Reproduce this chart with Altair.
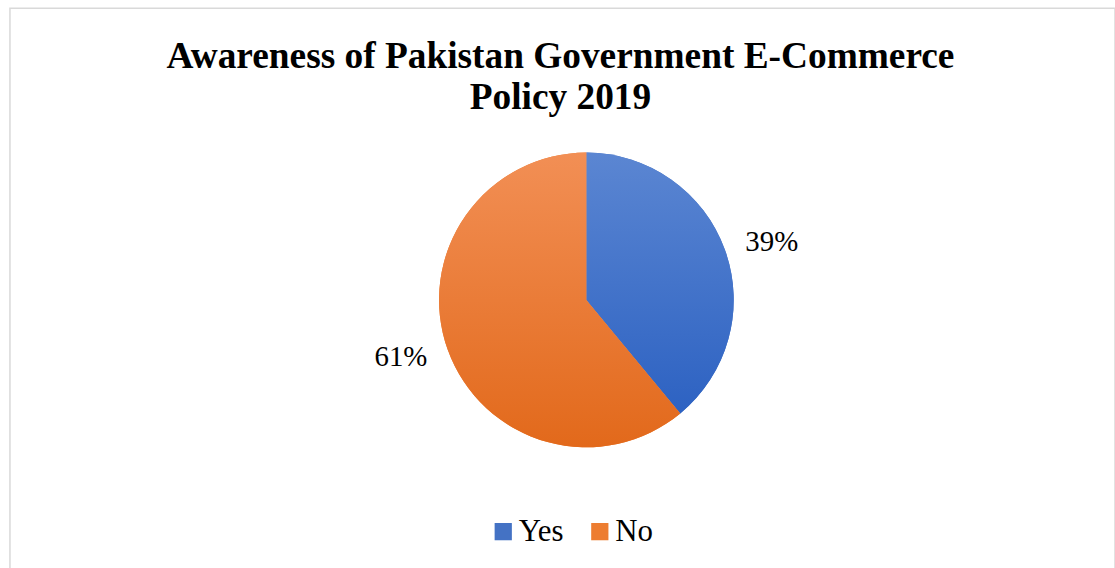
import altair as alt
import pandas as pd

labels = ["Yes", "No"]
values = [39, 61]
order = [1, 2]
pct_text = ["39%", "61%"]

df = pd.DataFrame({"label": labels, "value": values, "order": order, "pct": pct_text})

CX, CY = 579, 293
R = 148
FONT = "Times New Roman, Liberation Serif, DejaVu Serif, serif"

base = alt.Chart(df).transform_window(
    cum="sum(value)", sort=[alt.SortField("order")]
).transform_calculate(
    start="datum.cum - datum.value",
    mid="datum.cum - datum.value/2",
)

theta_scale = alt.Scale(domain=[0, 100])

arc_base = base.mark_arc(outerRadius=R).encode(
    theta=alt.Theta("start:Q", scale=theta_scale),
    theta2="cum:Q",
    x=alt.value(CX), y=alt.value(CY),
    color=alt.Color("label:N", scale=alt.Scale(domain=labels, range=["#4472C4", "#ED7D31"]),
                    legend=alt.Legend(title=None, orient="none", legendX=480, legendY=510,
                                      direction="horizontal", symbolType="square",
                                      symbolSize=300, symbolStrokeWidth=0,
                                      labelFont=FONT, labelFontSize=31, labelColor="#000000",
                                      columnPadding=20, labelOffset=0)),
)

def grad(c1, c2):
    return alt.Gradient(gradient="linear", x1=0, x2=0, y1=0, y2=1,
                        stops=[alt.GradientStop(color=c1, offset=0),
                               alt.GradientStop(color=c2, offset=1)])

arc_yes = base.transform_filter("datum.label == 'Yes'").mark_arc(
    outerRadius=R, fill=grad("#5b86d2", "#2d62c2")).encode(
    theta=alt.Theta("start:Q", scale=theta_scale), theta2="cum:Q",
    x=alt.value(CX), y=alt.value(CY))

arc_no = base.transform_filter("datum.label == 'No'").mark_arc(
    outerRadius=R, fill=grad("#f28f55", "#e2691b")).encode(
    theta=alt.Theta("start:Q", scale=theta_scale), theta2="cum:Q",
    x=alt.value(CX), y=alt.value(CY))

text = base.mark_text(font=FONT, fontSize=29, color="#000000", thetaOffset=0.045).encode(
    theta=alt.Theta("mid:Q", scale=theta_scale),
    radius=alt.value(195),
    x=alt.value(CX), y=alt.value(CY),
    text="pct:N")

chart = alt.layer(arc_base, arc_yes, arc_no, text).properties(
    width=1110, height=565,
    autosize=alt.AutoSizeParams(type="none"),
    padding={"top": 7, "left": 10, "right": 0, "bottom": 0},
    title=alt.TitleParams(
        text=["Awareness of Pakistan Government E-Commerce", "Policy 2019"],
        font=FONT, fontSize=37.5, fontWeight="bold", color="#000000",
        lineHeight=41, anchor="middle", offset=-109, dx=-2, frame="group"),
).configure_view(stroke="#d9d9d9", strokeWidth=1.5)

chart.save("out.html", embed_options={"renderer": "svg", "actions": False})
